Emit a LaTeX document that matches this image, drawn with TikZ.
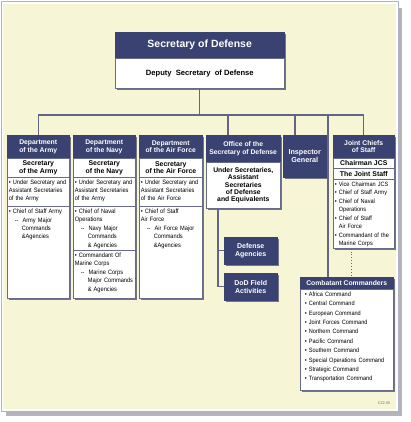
\documentclass[tikz,border=0pt]{standalone}
\usepackage{fontspec}
\setmainfont{Liberation Sans}
\newfontfamily\narrowsf[FakeStretch=0.9]{Liberation Sans}
\usetikzlibrary{positioning, shadows}
\definecolor{navy}{RGB}{57,66,112}
\definecolor{frame}{RGB}{104,106,138}
\definecolor{linkgray}{RGB}{100,100,132}
\definecolor{shadowgray}{RGB}{118,118,130}
\definecolor{cream}{RGB}{246,245,214}
\definecolor{rimgray}{RGB}{176,176,198}
\hyphenpenalty=10000
\exhyphenpenalty=10000

\begin{document}
\begin{tikzpicture}[
    x=1pt, y=-1pt,
    boxshadow/.style={drop shadow={shadow xshift=2pt, shadow yshift=-2pt, fill=shadowgray, opacity=1}},
    hd/.style={anchor=north west, fill=navy, draw=navy, text=white, align=center, inner sep=1pt,
        font=\bfseries\fontsize{6.8}{7.6}\selectfont, boxshadow},
    sub/.style={anchor=north west, fill=white, draw=frame, line width=0.6pt, align=center, inner sep=1pt,
        font=\bfseries\fontsize{6.9}{7.4}\selectfont, boxshadow},
    lst/.style={anchor=north west, fill=white, draw=frame, line width=0.6pt, align=left,
        inner xsep=1.5pt, inner ysep=2pt, text height=5pt, text depth=#1,
        font=\narrowsf\fontsize{6.3}{8.2}\selectfont, boxshadow},
    link/.style={draw=linkgray, line width=1.1pt},
]
\useasboundingbox (0,0) rectangle (410,422);

% ============================================================
% Sheet
% ============================================================
\fill[shadowgray!55] (6,8) rectangle (402,416);
\filldraw[fill=white, draw=rimgray] (1,1) rectangle (398,411);
\fill[cream] (3,4) rectangle (396,409);

% ============================================================
% Top: Secretary of Defense
% ============================================================
\node[hd, minimum width=169pt, minimum height=26pt, font=\bfseries\fontsize{10.5}{12}\selectfont]
    (secdef) at (115,32) {Secretary of Defense};
\node[sub, minimum width=169pt, minimum height=30pt, font=\bfseries\fontsize{7.6}{9}\selectfont]
    (dep) at (115,58) {Deputy\ \ Secretary\ \ of Defense};

% ============================================================
% Military departments
% ============================================================
% --- Army ---
\node[hd, minimum width=62pt, minimum height=23pt] (armyHd) at (7,135) {Department\\of the Army};
\node[sub, minimum width=62pt, minimum height=19pt] (armySec) at (7,158) {Secretary\\of the Army};
\node[lst=20pt, text width=59pt] (armyBul) at (7,177)
    {\textbullet\ Under Secretary and\\Assistant Secretaries\\of the Army};
\node[lst=83pt, text width=59pt] (armyChief) at (7,206)
    {\textbullet\ Chief of Staff Army\\[1pt]
     \hspace*{6pt}--\hspace*{4pt}Army Major\\
     \hspace*{13pt}Commands\\
     \hspace*{13pt}\&Agencies};

% --- Navy ---
\node[hd, minimum width=62pt, minimum height=23pt] (navyHd) at (73,135) {Department\\of the Navy};
\node[sub, minimum width=62pt, minimum height=19pt] (navySec) at (73,158) {Secretary\\of the Navy};
\node[lst=20pt, text width=59pt] (navyBul) at (73,177)
    {\textbullet\ Under Secretary and\\Assistant Secretaries\\of the Army};
\node[lst=35pt, text width=59pt] (navyChief) at (73,206)
    {\textbullet\ Chief of Naval\\Operations\\[1pt]
     \hspace*{6pt}--\hspace*{4pt}Navy Major\\
     \hspace*{13pt}Commands\\
     \hspace*{13pt}\& Agencies};
\node[lst=39pt, text width=59pt] (navyCmdt) at (73,250)
    {\textbullet\ Commandant Of\\Marine Corps\\[1pt]
     \hspace*{6pt}--\hspace*{4pt}Marine Corps\\
     \hspace*{13pt}Major Commands\\
     \hspace*{13pt}\& Agencies};

% --- Air Force ---
\node[hd, minimum width=63pt, minimum height=23pt] (afHd) at (139,135) {Department\\of the Air Force};
\node[sub, minimum width=63pt, minimum height=19pt] (afSec) at (139,158) {Secretary\\of the Air Force};
\node[lst=20pt, text width=60pt] (afBul) at (139,177)
    {\textbullet\ Under Secretary and\\Assistant Secretaries\\of the Air Force};
\node[lst=83pt, text width=60pt] (afChief) at (139,206)
    {\textbullet\ Chief of Staff\\Air Force\\[1pt]
     \hspace*{6pt}--\hspace*{4pt}Air Force Major\\
     \hspace*{13pt}Commands\\
     \hspace*{13pt}\&Agencies};

% ============================================================
% OSD, Inspector General, Joint Chiefs
% ============================================================
\node[hd, minimum width=74pt, minimum height=27pt] (osdHd) at (206,135) {Office of the\\Secretary of Defense};
\node[sub, minimum width=74pt, minimum height=46pt, font=\bfseries\fontsize{6.8}{7.3}\selectfont]
    (osdSub) at (206,162) {Under Secretaries,\\Assistant\\Secretaries\\of Defense\\and Equivalents};
\node[hd, minimum width=53pt, minimum height=27pt, font=\bfseries\fontsize{7}{8}\selectfont]
    (da) at (224,237) {Defense\\Agencies};
\node[hd, minimum width=53pt, minimum height=27pt, font=\bfseries\fontsize{7}{8}\selectfont]
    (dod) at (224,273) {DoD Field\\Activities};

\node[hd, minimum width=43pt, minimum height=42pt, font=\bfseries\fontsize{7.2}{8}\selectfont]
    (ig) at (283,135) {Inspector\\General};

\node[hd, minimum width=61pt, minimum height=23pt] (jcsHd) at (333,135) {Joint Chiefs\\of Staff};
\node[sub, minimum width=61pt, minimum height=10pt, inner sep=0pt] (chair) at (333,158) {Chairman JCS};
\node[sub, minimum width=61pt, minimum height=11pt, inner sep=0pt] (jstaff) at (333,168) {The Joint Staff};
\node[lst=60pt, text width=58pt, font=\narrowsf\fontsize{6.2}{8.2}\selectfont] (jcsList) at (333,179)
    {\textbullet\ Vice Chairman JCS\\[0.4pt]
     \textbullet\ Chief of Staff Army\\[0.4pt]
     \textbullet\ Chief of Naval\\\phantom{\textbullet\ }Operations\\[0.4pt]
     \textbullet\ Chief of Staff\\\phantom{\textbullet\ }Air Force\\[0.4pt]
     \textbullet\ Commandant of the\\\phantom{\textbullet\ }Marine Corps};

% --- Combatant Commanders ---
\node[hd, minimum width=93pt, minimum height=12pt, inner sep=0pt] (ccHd) at (300,277) {Combatant Commanders};
\node[lst=92pt, text width=84pt, inner xsep=4.5pt, font=\narrowsf\fontsize{6.2}{9.4}\selectfont]
    (cc) at (300,289)
    {\textbullet\ Africa Command\\
     \textbullet\ Central Command\\
     \textbullet\ European Command\\
     \textbullet\ Joint Forces Command\\
     \textbullet\ Northern Command\\
     \textbullet\ Pacific Command\\
     \textbullet\ Southern Command\\
     \textbullet\ Special Operations Command\\
     \textbullet\ Strategic Command\\
     \textbullet\ Transportation Command};

\node[anchor=center, text=black!55, font=\fontsize{3.8}{4}\selectfont] (code) at (384,403) {C22-05};

% ============================================================
% Connectors
% ============================================================
\coordinate (bus) at (0,115);
\coordinate (osdDrop) at (228,0);
\coordinate (igDrop) at (295,0);
\coordinate (ccDrop) at (328,0);
\coordinate (osdStem) at (218,0);
\coordinate (jcsDot) at (351,0);

\draw[link] (armyHd.north |- bus) -- (jcsHd.north |- bus);
\draw[link] (dep.south) -- (dep.south |- bus);
\draw[link] (armyHd.north |- bus) -- (armyHd.north);
\draw[link] (osdDrop |- bus) -- (osdDrop |- osdHd.north);
\draw[link] (igDrop |- bus) -- (igDrop |- ig.north);
\draw[link] (ccDrop |- bus) -- (ccDrop |- ccHd.north);
\draw[link] (jcsHd.north |- bus) -- (jcsHd.north);

% OSD field offices
\draw[link] (osdStem |- osdSub.south) |- (dod.west);
\draw[link] (osdStem |- da.west) -- (da.west);

% JCS to combatant commanders
\draw[linkgray, line width=0.9pt, dotted] (jcsDot |- jcsList.south) -- (jcsDot |- ccHd.north);

\end{tikzpicture}
\end{document}
